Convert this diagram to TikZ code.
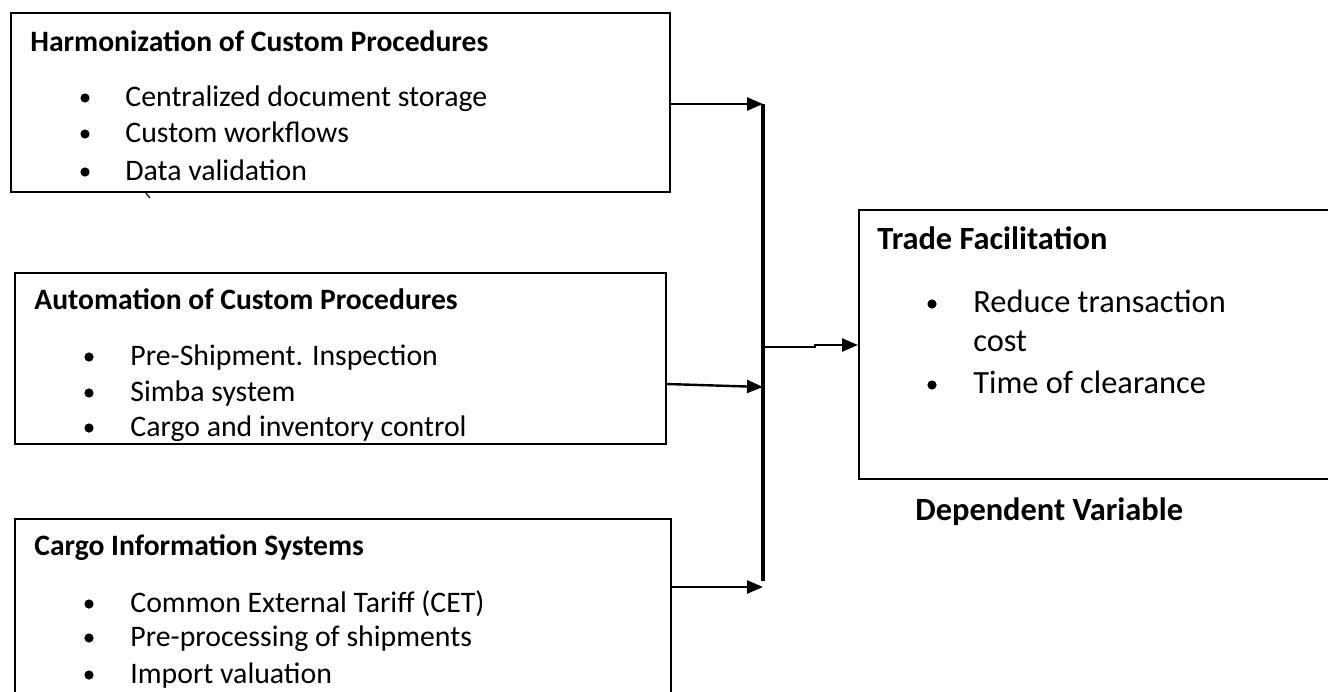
\documentclass[tikz,border=0pt]{standalone}
\usepackage{fontspec}
\setmainfont{Carlito}
\usetikzlibrary{arrows.meta}
\tikzstyle{box}=[draw=black,line width=0.8pt,anchor=north west,inner sep=0pt]
\tikzstyle{head}=[anchor=west,inner sep=0pt,text height=0.7em,text depth=0.2em,yshift=-2pt,
  font=\bfseries\fontsize{14.8}{17}\selectfont]
\tikzstyle{bighead}=[head,font=\bfseries\fontsize{16.2}{19}\selectfont]
\tikzstyle{item}=[anchor=west,inner sep=0pt,text height=0.7em,text depth=0.2em,yshift=-2pt,
  font=\fontsize{14.9}{17}\selectfont]
\tikzstyle{bigitem}=[item,font=\fontsize{16.2}{19}\selectfont]
\tikzstyle{dot}=[circle,fill=black,inner sep=0pt,minimum size=4.6pt]
\tikzstyle{link}=[line width=1.2pt,-{Triangle[length=8pt,width=6.5pt]}]

\begin{document}
\begin{tikzpicture}[x=0.5pt,y=-0.5pt]
    \useasboundingbox (0,0) rectangle (1328,691);
    % independent variables
    \node [style=box,minimum width=329.5pt,minimum height=89.5pt] (harm) at (10,12) {};
    \node [style=head] (harmh) at (30,42) {Harmonization of Custom Procedures};
    \node [style=dot] (hd1) at (85,98) {};
    \node [style=item] (hi1) at (125,97) {Centralized document storage};
    \node [style=dot] (hd2) at (85,134) {};
    \node [style=item] (hi2) at (125,133) {Custom workflows};
    \node [style=dot] (hd3) at (85,172) {};
    \node [style=item] (hi3) at (125,171) {Data validation};
    \draw [line width=0.6pt] (145,192) -- (150,198);

    \node [style=box,minimum width=325.5pt,minimum height=85.5pt] (auto) at (14,272) {};
    \node [style=head] (autoh) at (34,300) {Automation of Custom Procedures};
    \node [style=dot] (ad1) at (89,357) {};
    \node [style=item] (ai1) at (130,356) {Pre-Shipment. Inspection};
    \node [style=dot] (ad2) at (89,393) {};
    \node [style=item] (ai2) at (130,392) {Simba system};
    \node [style=dot] (ad3) at (89,428) {};
    \node [style=item] (ai3) at (130,427) {Cargo and inventory control};

    \node [style=box,minimum width=328pt,minimum height=101pt] (cargo) at (14,518) {};
    \node [style=head] (cargoh) at (34,546) {Cargo Information Systems};
    \node [style=dot] (cd1) at (89,604) {};
    \node [style=item] (ci1) at (130,603) {Common External Tariff (CET)};
    \node [style=dot] (cd2) at (89,638) {};
    \node [style=item] (ci2) at (130,637) {Pre-processing of shipments};
    \node [style=dot] (cd3) at (89,675) {};
    \node [style=item] (ci3) at (130,674) {Import valuation};

    % dependent variable
    \node [style=box,minimum width=243.5pt,minimum height=134.5pt] (trade) at (858,209) {};
    \node [style=bighead] (tradeh) at (877,240) {Trade Facilitation};
    \node [style=dot] (td1) at (932,304) {};
    \node [style=bigitem] (ti1) at (973,303) {Reduce transaction};
    \node [style=bigitem] (ti1b) at (973,342) {cost};
    \node [style=dot] (td2) at (932,385) {};
    \node [style=bigitem] (ti2) at (973,384) {Time of clearance};
    \node [style=bighead] (dep) at (915,511) {Dependent Variable};

    % bus and arrows
    \coordinate (j1) at (763,104);
    \coordinate (j2) at (763,387);
    \coordinate (j3) at (763,587);
    \coordinate (jb) at (763,581);
    \coordinate (jo) at (763,347);
    \coordinate (bend) at (815,347);
    \draw [line width=1.8pt] (j1) -- (jb);
    \draw [style=link] (harm.east |- j1) -- (j1);
    \draw [style=link] (auto.east |- 0,384) -- (j2);
    \draw [style=link] (cargo.east |- j3) -- (j3);
    \draw [style=link] (jo) -- (bend) -- ++(0,-2) -- (trade.west |- 0,345);
\end{tikzpicture}
\end{document}
